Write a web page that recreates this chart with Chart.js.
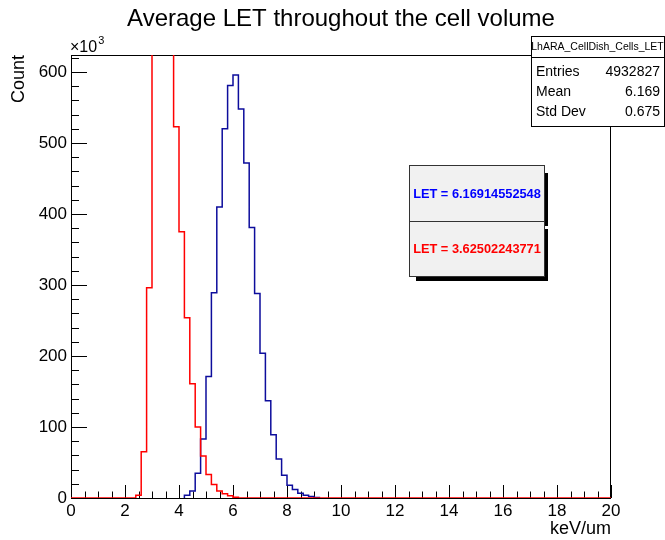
<!DOCTYPE html>
<html>
<head>
<meta charset="utf-8">
<script src="https://cdn.jsdelivr.net/npm/chart.js@4.4.1/dist/chart.umd.min.js"></script>
<style>
  body { margin: 0; background: #fff; }
  #wrap { width: 665px; height: 540px; }
</style>
</head>
<body>
<div id="wrap"><canvas id="myChart" width="665" height="540"></canvas></div>
<script>
// histogram bins are 0.2 keV/um wide, counts in units of 10^3
const binWidth = 0.2;
const redStart = 2.4;
const redCounts = [4, 65, 296, 680, 810, 850, 688, 523, 375, 254, 161, 100, 59, 33, 19, 10, 6, 3, 1];
const blueStart = 4.2;
const blueCounts = [4, 10, 35, 83, 171, 289, 410, 520, 581, 596, 548, 472, 381, 288, 204, 137, 89, 55, 32, 18, 12, 6.6, 4, 2, 0.8];

const xTicks = [0, 2, 4, 6, 8, 10, 12, 14, 16, 18, 20];
const yTicks = [0, 100, 200, 300, 400, 500, 600];

const statLabels = ['Entries', 'Mean', 'Std Dev'];
const statValues = ['4932827', '6.169', '0.675'];
const paveTexts = ['LET = 6.16914552548', 'LET = 3.62502243771'];

const FONT = '"Liberation Sans", Arial, Helvetica, sans-serif';

// turn bin counts into step points (left edge of each bin)
function toSteps(start, counts, withBaseline) {
  let pts = [];
  if (withBaseline) pts.push({ x: 0, y: 0 });
  else pts.push({ x: start, y: 0 });
  counts.forEach((c, i) => pts.push({ x: start + i * binWidth, y: c }));
  pts.push({ x: start + counts.length * binWidth, y: 0 });
  if (withBaseline) pts.push({ x: 20, y: 0 });
  return pts;
}

const rootStyle = {
  id: 'rootStyle',
  beforeDatasetsDraw(chart) {
    const { ctx, chartArea: a, scales: { x, y } } = chart;
    ctx.save();
    ctx.strokeStyle = '#000';
    ctx.lineWidth = 1;
    ctx.strokeRect(a.left + 0.5, a.top + 0.5, a.right - a.left - 1, a.bottom - a.top);
    ctx.beginPath();
    // x ticks: major every 2, minor every 0.5
    for (let i = 0; i <= 40; i++) {
      const v = i * 0.5;
      const px = Math.round(x.getPixelForValue(v)) + 0.5;
      const len = (i % 4 === 0) ? 13 : 6.5;
      ctx.moveTo(px, a.bottom);
      ctx.lineTo(px, a.bottom - len);
    }
    // y ticks: major every 100, minor every 20
    for (let i = 0; i * 20 <= y.max; i++) {
      const v = i * 20;
      const py = Math.round(y.getPixelForValue(v)) + 0.5;
      const len = (i % 5 === 0) ? 16 : 8;
      ctx.moveTo(a.left, py);
      ctx.lineTo(a.left + len, py);
    }
    ctx.stroke();
    ctx.restore();
  },
  afterDraw(chart) {
    const { ctx, chartArea: a } = chart;
    ctx.save();
    ctx.fillStyle = '#000';

    // title
    ctx.font = '24px ' + FONT;
    ctx.textAlign = 'center';
    ctx.textBaseline = 'middle';
    ctx.fillText('Average LET throughout the cell volume', 341, 19);

    // x10^3
    ctx.font = '16px ' + FONT;
    ctx.textAlign = 'left';
    ctx.textBaseline = 'alphabetic';
    ctx.fillText('\u00d710', 70, 52);
    const w = ctx.measureText('\u00d710').width;
    ctx.font = '11px ' + FONT;
    ctx.fillText('3', 70 + w + 1, 44);

    // axis titles
    ctx.font = '18px ' + FONT;
    ctx.textAlign = 'right';
    ctx.textBaseline = 'middle';
    ctx.fillText('keV/um', a.right, 529);
    ctx.save();
    ctx.translate(19, a.top);
    ctx.rotate(-Math.PI / 2);
    ctx.fillText('Count', 0, 0);
    ctx.restore();

    // stats box
    ctx.fillStyle = '#fff';
    ctx.fillRect(531, 36, 133, 91);
    ctx.strokeStyle = '#000';
    ctx.lineWidth = 1;
    ctx.strokeRect(531.5, 36.5, 133, 90);
    ctx.beginPath();
    ctx.moveTo(531, 57.5);
    ctx.lineTo(665, 57.5);
    ctx.stroke();
    ctx.fillStyle = '#000';
    ctx.font = '10.5px ' + FONT;
    ctx.textAlign = 'center';
    ctx.fillText('LhARA_CellDish_Cells_LET', 597.5, 47);
    ctx.font = '14px ' + FONT;
    statLabels.forEach((lab, i) => {
      const yy = 72 + i * 20;
      ctx.textAlign = 'left';
      ctx.fillText(lab, 536, yy);
      ctx.textAlign = 'right';
      ctx.fillText(statValues[i], 660, yy);
    });

    // LET paves with shadows
    function pave(x1, y1, x2, y2, text, color) {
      ctx.fillStyle = '#000';
      ctx.fillRect(x1 + 7, y1 + 8, x2 - x1 - 3, y2 - y1 - 3);
      ctx.fillStyle = '#f1f1f1';
      ctx.fillRect(x1, y1, x2 - x1, y2 - y1);
      ctx.strokeStyle = '#333';
      ctx.strokeRect(x1 + 0.5, y1 + 0.5, x2 - x1, y2 - y1);
      ctx.fillStyle = color;
      ctx.font = 'bold 12.8px ' + FONT;
      ctx.textAlign = 'center';
      ctx.textBaseline = 'middle';
      ctx.fillText(text, (x1 + x2) / 2 + 0.5, (y1 + y2) / 2 + 1);
    }
    pave(409, 165, 544, 221, paveTexts[0], '#0000ff');
    pave(409, 221, 544, 276, paveTexts[1], '#ff0000');

    ctx.restore();
  }
};

var ctx = document.getElementById('myChart');
const config = {
  type: 'line',
  data: {
    datasets: [
      {
        label: 'red',
        data: toSteps(redStart, redCounts, true),
        borderColor: '#ff0000',
        borderWidth: 1.5,
        stepped: true,
        pointRadius: 0,
        fill: false
      },
      {
        label: 'blue',
        data: toSteps(blueStart, blueCounts, false),
        borderColor: '#0d0d9c',
        borderWidth: 1.5,
        stepped: true,
        pointRadius: 0,
        fill: false
      }
    ]
  },
  options: {
    responsive: false,
    animation: false,
    devicePixelRatio: 1,
    layout: { padding: { left: 0, right: 54, top: 55, bottom: 0 } },
    plugins: {
      legend: { display: false },
      tooltip: { enabled: false },
      title: { display: false }
    },
    scales: {
      x: {
        type: 'linear',
        min: 0,
        max: 20,
        afterFit: (s) => { s.height = 42; },
        afterBuildTicks: (s) => { s.ticks = xTicks.map(v => ({ value: v })); },
        grid: { display: false, drawTicks: false },
        border: { display: false },
        ticks: {
          padding: 3,
          maxRotation: 0,
          autoSkip: false,
          color: '#000',
          font: { family: FONT, size: 17 }
        }
      },
      y: {
        type: 'linear',
        min: 0,
        max: 624,
        afterFit: (s) => { s.width = 71; },
        afterBuildTicks: (s) => { s.ticks = yTicks.map(v => ({ value: v })); },
        grid: { display: false, drawTicks: false },
        border: { display: false },
        ticks: {
          padding: 4,
          color: '#000',
          font: { family: FONT, size: 17 }
        }
      }
    }
  },
  plugins: [rootStyle]
};
var myChart = new Chart(ctx, config);
</script>
</body>
</html>
